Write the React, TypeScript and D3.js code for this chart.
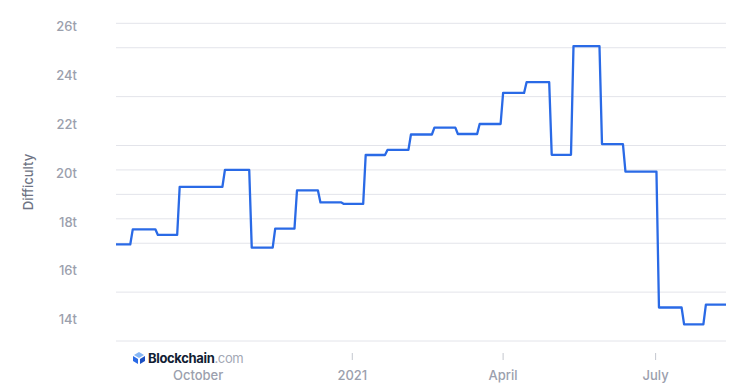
import React from "react";
import * as d3 from "d3";

const changeDates = [
  "2020-08-13", "2020-08-23", "2020-09-07", "2020-09-20", "2020-10-17",
  "2020-11-02", "2020-11-16", "2020-11-29", "2020-12-13", "2020-12-27",
  "2021-01-09", "2021-01-22", "2021-02-05", "2021-02-19", "2021-03-05",
  "2021-03-18", "2021-04-01", "2021-04-15", "2021-04-30", "2021-05-13",
  "2021-05-30", "2021-06-13", "2021-07-03", "2021-07-18", "2021-07-31",
];
const difficultyT = [
  16.95, 17.57, 17.34, 19.31, 20.0,
  16.82, 17.6, 19.16, 18.67, 18.61,
  20.61, 20.82, 21.45, 21.73, 21.47,
  21.88, 23.15, 23.59, 20.62, 25.07,
  21.06, 19.93, 14.37, 13.68, 14.49,
];
const endDate = "2021-08-12";

const yTickValues = [14, 16, 18, 20, 22, 24, 26];
const gridValues = [13, 15, 17, 18, 19, 20, 21, 23, 25, 26];
const xTickDates = ["2020-10-01", "2021-01-01", "2021-04-01", "2021-07-01"];
const xTickLabels = ["October", "2021", "April", "July"];

const W = 745;
const H = 388;
const FONT = "Inter, 'Noto Sans', sans-serif";

export default function App() {
  const parse = d3.utcParse("%Y-%m-%d");
  const DAY = 86400000;
  const start = parse(changeDates[0])!;
  const end = parse(endDate)!;

  const x = d3.scaleUtc().domain([start, end]).range([116, 726]);
  const y = d3.scaleLinear().domain([13, 26]).range([341, 23.3]);

  const pts: [Date, number][] = [];
  changeDates.forEach((ds, i) => {
    const d = parse(ds)!;
    pts.push([d, difficultyT[i]]);
    const next = i + 1 < changeDates.length ? new Date(parse(changeDates[i + 1])!.getTime() - 1.5 * DAY) : end;
    pts.push([next, difficultyT[i]]);
  });

  const line = d3
    .line<[Date, number]>()
    .x((d) => x(d[0]))
    .y((d) => y(d[1]))
    .curve(d3.curveLinear);

  const [x0, x1] = x.range();

  return (
    <svg width={W} height={H} style={{ position: "absolute", left: 0, top: 0, background: "#fff" }}>
      <rect x={0} y={0} width={W} height={H} fill="#fff" />
      {gridValues.map((v) => (
        <line key={v} x1={x0} x2={x1} y1={y(v)} y2={y(v)} stroke="#e3e4ea" strokeWidth={1} />
      ))}
      {yTickValues.map((v) => (
        <text
          key={v}
          x={77}
          y={y(v) + 2.8}
          textAnchor="end"
          dominantBaseline="central"
          fontFamily={FONT}
          fontSize={13}
          fontWeight={500}
          fill="#9ba0ad"
        >
          {v}t
        </text>
      ))}
      <text
        transform={`translate(28,182) rotate(-90)`}
        textAnchor="middle"
        dominantBaseline="central"
        fontFamily={FONT}
        fontSize={13}
        fontWeight={500}
        fill="#6e7383"
      >
        Difficulty
      </text>
      {xTickDates.map((ds, i) => {
        const xx = x(parse(ds)!);
        return (
          <g key={ds}>
            <line x1={xx} x2={xx} y1={353} y2={360} stroke="#c4c7cf" strokeWidth={1} />
            <text
              x={xx}
              y={375}
              textAnchor="middle"
              dominantBaseline="central"
              fontFamily={FONT}
              fontSize={13}
              fontWeight={500}
              fill="#9ba0ad"
            >
              {xTickLabels[i]}
            </text>
          </g>
        );
      })}
      <path d={line(pts) ?? ""} fill="none" stroke="#2a6ae6" strokeWidth={2.3} strokeLinejoin="round" />
      <g>
        <rect x={131} y={349} width={116} height={16} fill="#fff" />
        <polygon points="139,352 144,355 139,358 134,355" fill="#86b6f5" />
        <polygon points="133,356 138,359 138,364 133,361" fill="#2a6ae6" />
        <polygon points="145,356 140,359 140,364 145,361" fill="#1b4fc2" />
        <text x={148} y={357.5} dominantBaseline="central" fontFamily={FONT} fontSize={13} fontWeight={700} fill="#121d33" letterSpacing={-0.35}>
          Blockchain
          <tspan fontWeight={400} fill="#a3a8b5">.com</tspan>
        </text>
      </g>
    </svg>
  );
}
